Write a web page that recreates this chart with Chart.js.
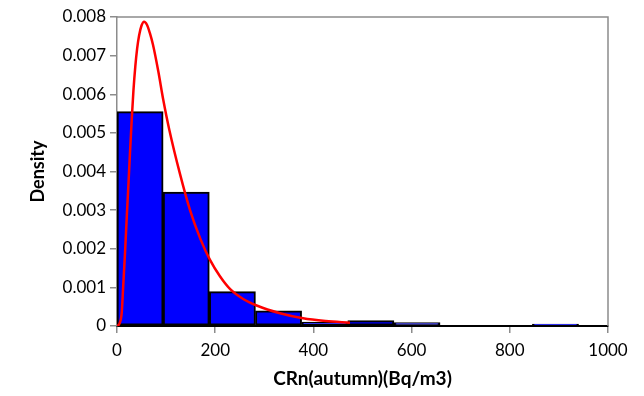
<!DOCTYPE html>
<html>
<head>
<meta charset="utf-8">
<script src="https://cdn.jsdelivr.net/npm/chart.js@4"></script>
<style>
  html, body { margin: 0; padding: 0; background: #fff; }
  #wrap { width: 644px; height: 396px; }
</style>
</head>
<body>
<div id="wrap"><canvas id="c" width="644" height="396"></canvas></div>
<script>
// histogram bins (centres, width ~94) and densities
var binCenters = [47, 141, 235, 329, 423, 517, 611, 705, 799, 893];
var binDensity = [0.00555, 0.00347, 0.00089, 0.00039, 0.00010, 0.00014, 0.00009, 0.0, 0.0, 0.00005];

// fitted curve, points
var curveX = [0, 5, 9.6, 12.5, 16.3, 20, 23, 26.5, 30, 33.5, 37.3, 41, 45, 50, 55, 61, 67, 73.3, 84, 94.3, 106.5, 128, 148.7, 170, 189.4, 210, 230, 257, 284.5, 332, 379, 425, 474.5];
var curveY = [0, 0.00006, 0.00034, 0.00100, 0.00189, 0.00285, 0.00360, 0.00450, 0.00535, 0.00610, 0.00672, 0.00718, 0.00752, 0.00778, 0.00788, 0.00780, 0.00758, 0.00728, 0.00660, 0.00585, 0.00508, 0.00395, 0.00300, 0.00225, 0.00171, 0.00128, 0.00096, 0.00070, 0.00053, 0.00033, 0.00020, 0.00013, 0.000085];

var xTicksMax = 1000;
var yTicksMax = 0.008;

var barData = binCenters.map(function (x, i) { return { x: x, y: binDensity[i] }; });
var lineData = curveX.map(function (x, i) { return { x: x, y: curveY[i] }; });

var FONT = 'Lato, "Open Sans", sans-serif';

// grey frame on top and right of plot area
var frame = {
    id: 'frame',
    afterDraw: function (chart) {
        var a = chart.chartArea, ctx = chart.ctx;
        ctx.save();
        ctx.strokeStyle = '#8c8c8c';
        ctx.lineWidth = 1.5;
        ctx.beginPath();
        ctx.moveTo(a.left, a.top);
        ctx.lineTo(a.right, a.top);
        ctx.lineTo(a.right, a.bottom);
        ctx.stroke();
        ctx.restore();
    }
};

new Chart(document.getElementById('c'), {
    data: {
        datasets: [
            {
                type: 'line',
                data: lineData,
                borderColor: '#ff0000',
                borderWidth: 2.5,
                pointRadius: 0,
                cubicInterpolationMode: 'monotone',
                fill: false,
                order: 0
            },
            {
                type: 'bar',
                data: barData,
                backgroundColor: '#0000ff',
                borderColor: '#000000',
                borderWidth: 2,
                borderSkipped: false,
                barPercentage: 1,
                categoryPercentage: 1,
                order: 1
            }
        ]
    },
    options: {
        responsive: false,
        animation: false,
        layout: { padding: { left: 27, right: 36, top: 17, bottom: 6 } },
        plugins: { legend: { display: false }, tooltip: { enabled: false } },
        scales: {
            x: {
                type: 'linear',
                min: 0,
                max: xTicksMax,
                offset: false,
                ticks: {
                    stepSize: 200, color: '#000', font: { family: FONT, size: 17 }, padding: 7,
                    callback: function (v) { return String(v); }
                },
                grid: { offset: false, drawOnChartArea: false, color: '#8c8c8c', tickLength: 7, lineWidth: 1.5 },
                border: { color: '#000', width: 2 },
                title: { display: true, text: 'CRn(autumn)(Bq/m3)', color: '#000', font: { family: FONT, size: 19, weight: 'bold' }, padding: { top: 3, bottom: 0 } },
                afterFit: function (s) { s.height = 396 - 326 - 6; }
            },
            y: {
                min: 0,
                max: yTicksMax,
                ticks: {
                    stepSize: 0.001, color: '#000', font: { family: FONT, size: 17 }, padding: 4,
                    callback: function (v) { return v === 0 ? '0' : v.toFixed(3); }
                },
                grid: { drawOnChartArea: false, color: '#8c8c8c', tickLength: 7, lineWidth: 1.5 },
                border: { color: '#8c8c8c', width: 1.5 },
                title: { display: true, text: 'Density', color: '#000', font: { family: FONT, size: 18, weight: 'bold' }, padding: { top: 0, bottom: 0 } },
                afterFit: function (s) { s.width = 117 - 27; }
            }
        }
    },
    plugins: [frame]
});
</script>
</body>
</html>
